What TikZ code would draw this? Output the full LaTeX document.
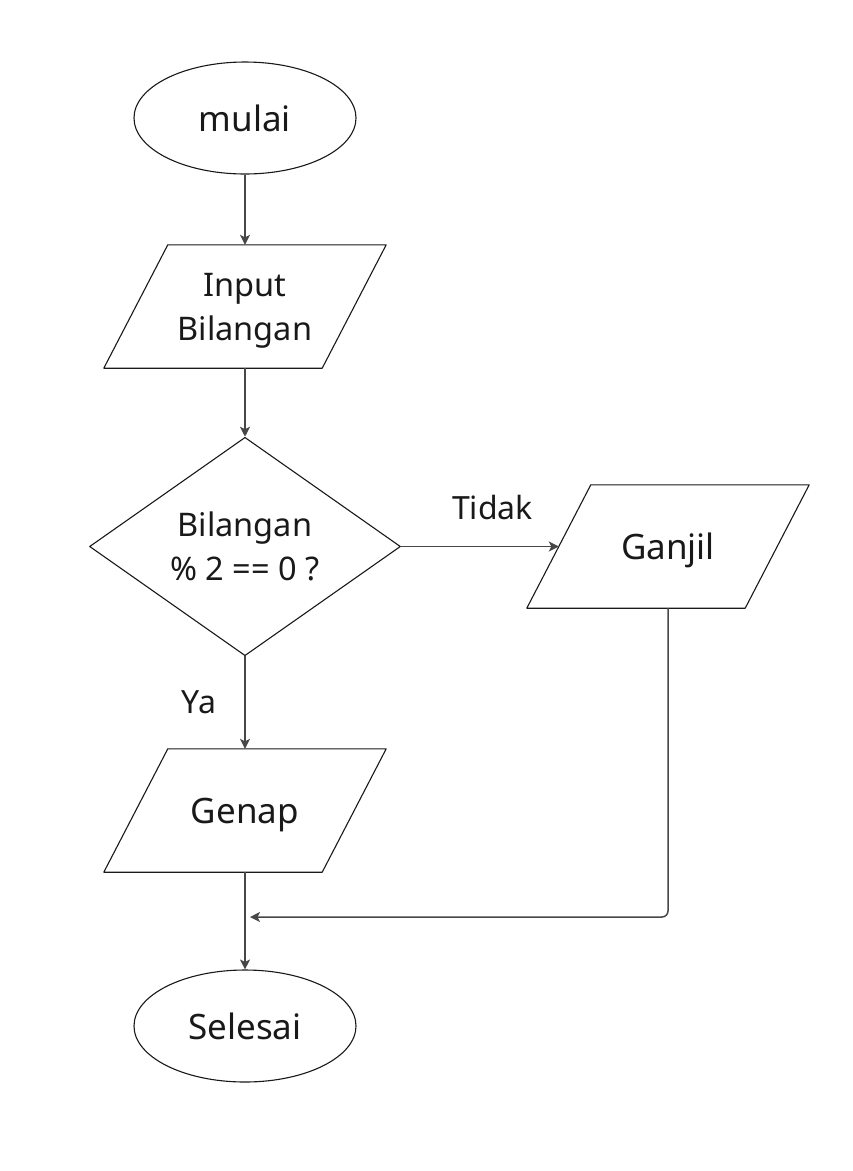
\documentclass[tikz,border=0pt]{standalone}
\usepackage{fontspec}
\setmainfont{Noto Sans}
\usetikzlibrary{shapes.geometric,arrows.meta}
\begin{document}
\begin{tikzpicture}[x=1pt, y=-1pt, line join=round, >={Stealth[length=10pt,width=10pt,inset=2.5pt]},
 font=\fontsize{35}{43}\selectfont,
 every node/.style={text=black!90},
 terminal/.style={ellipse, draw=black!90, line width=1.1pt, minimum width=222pt, minimum height=112pt, inner sep=0pt},
 io/.style={rectangle, minimum width=218pt, minimum height=123pt, inner sep=0pt, text depth=0pt, align=center},
 decision/.style={diamond, draw=black!90, line width=1.1pt, minimum width=311pt, minimum height=213pt, inner sep=0pt, align=center},
 twoline/.style={font=\fontsize{32.5}{44}\selectfont},
 line/.style={draw=black!72, line width=1.5pt, ->},
 lbl/.style={inner sep=0pt, font=\fontsize{32}{40}\selectfont}]
 \useasboundingbox (0,0) rectangle (853,1171);
 % bentuk
 \node[terminal] (mulai) at (245,118) {mulai};
 \node[io, twoline] (input) at (245,306.5) {Input\\Bilangan};
 \node[decision, twoline] (cek) at (245,546.5) {Bilangan\\\% 2 == 0 ?};
 \node[io] (ganjil) at (668,546.5) {Ganjil};
 \node[io] (genap) at (245,810.5) {Genap};
 \node[terminal] (selesai) at (245,1026) {Selesai};
 \coordinate (gabung) at (250,917);
 % jajar genjang
 \foreach \n in {input,ganjil,genap}
  \draw[black!90, line width=1.1pt] ([xshift=32pt]\n.north west) -- ([xshift=32pt]\n.north east)
   -- ([xshift=-32pt]\n.south east) -- ([xshift=-32pt]\n.south west) -- cycle;
 % garis
 \draw[line] (mulai) -- (input);
 \draw[line] (input) -- (cek);
 \draw[line] (cek) -- node[lbl, pos=0.58, above=26pt] {Tidak} (ganjil);
 \draw[line] (cek) -- node[lbl, left=28pt] {Ya} (genap);
 \draw[line] (genap) -- (selesai);
 \draw[line, rounded corners=6pt] (ganjil) |- (gabung);
\end{tikzpicture}
\end{document}
